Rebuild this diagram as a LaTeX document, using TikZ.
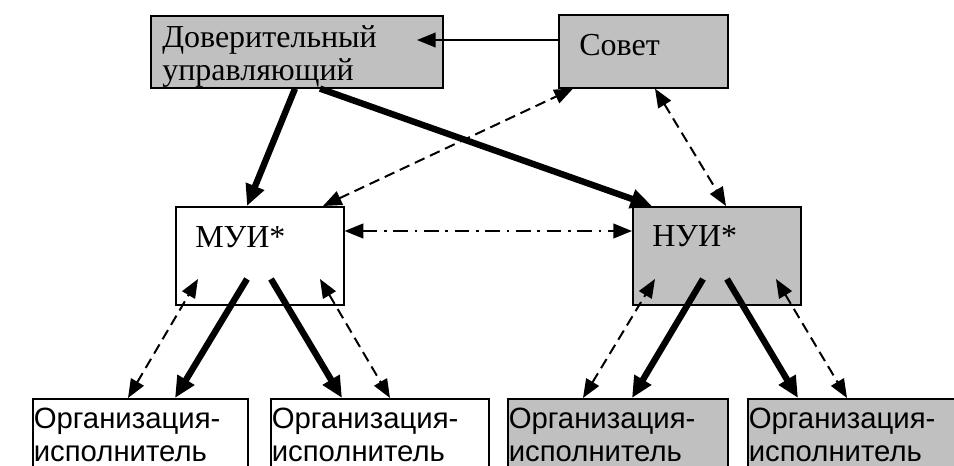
\documentclass[tikz,border=0pt]{standalone}
\usepackage{fontspec}
\setmainfont{Liberation Serif}
\newfontfamily\orgfont{Liberation Sans}
\usetikzlibrary{calc,arrows.meta}
\definecolor{boxgray}{HTML}{C0C0C0}
\tikzset{
  box/.style={draw=black, line width=1.2pt, anchor=north west, inner sep=0pt, rectangle},
  grey/.style={box, fill=boxgray},
  white/.style={box, fill=white},
  lbl/.style={anchor=base west, inner sep=0pt, font=\fontsize{24}{25}\selectfont},
  orglbl/.style={anchor=base west, inner sep=0pt, font=\orgfont\fontsize{22}{25}\selectfont},
  thinarr/.style={line width=1.4pt, -{Triangle[length=14pt,width=11pt]}},
  thickarr/.style={line width=4.8pt, -{Triangle[length=16pt,width=14pt]}},
  dsh/.style={line width=1.5pt, dash pattern=on 8pt off 4.5pt, {Triangle[length=14pt,width=11pt]}-{Triangle[length=14pt,width=11pt]}},
  dshdot/.style={line width=1.5pt, dash pattern=on 11pt off 5pt on 2pt off 5pt, {Triangle[length=14pt,width=11pt]}-{Triangle[length=14pt,width=11pt]}},
}
\begin{document}
\begin{tikzpicture}[x=0.75pt, y=-0.75pt]
\useasboundingbox (0,0) rectangle (954,465);
\clip (0,0) rectangle (954,465);
% boxes
\node[grey, minimum width=292*0.75pt, minimum height=72*0.75pt] (tr) at (150,15) {};
\node[grey, minimum width=169*0.75pt, minimum height=73*0.75pt] (co) at (558,14) {};
\node[white, minimum width=168*0.75pt, minimum height=98*0.75pt] (mu) at (175,206) {};
\node[grey, minimum width=168*0.75pt, minimum height=98*0.75pt] (nu) at (632,206) {};
\node[white, minimum width=215*0.75pt, minimum height=100*0.75pt] (b1) at (32,398) {};
\node[white, minimum width=218*0.75pt, minimum height=100*0.75pt] (b2) at (270,398) {};
\node[grey, minimum width=220*0.75pt, minimum height=100*0.75pt] (b3) at (507,398) {};
\node[grey, minimum width=220*0.75pt, minimum height=100*0.75pt] (b4) at (747,398) {};
% texts
\node[lbl] (trA) at ($(tr.north west)+(12,32)$) {Доверительный};
\node[lbl] (trB) at ($(tr.north west)+(12,65)$) {управляющий};
\node[lbl] (coT) at ($(co.north west)+(21,41)$) {Совет};
\node[lbl] (muT) at ($(mu.north west)+(20,41)$) {МУИ*};
\node[lbl] (nuT) at ($(nu.north west)+(20,40)$) {НУИ*};
\foreach \b in {b1,b2,b3,b4}{
  \node[orglbl] (\b A) at ($(\b.north west)+(1.5,30)$) {Организация-};
  \node[orglbl] (\b B) at ($(\b.north west)+(1.5,63)$) {исполнитель};
}
% connectors
\draw[thinarr] ($(co.north west)+(0,26)$) -- ($(tr.north west)+(267,25)$);
\draw[thickarr] ($(tr.south west)+(145,0)$) -- ($(mu.north west)+(72,0)$);
\draw[thickarr] ($(tr.south west)+(170,0)$) -- ($(nu.north west)+(20,0)$);
\draw[dsh] ($(mu.north west)+(148,0)$) -- ($(co.south west)+(15,0)$);
\draw[dsh] ($(co.south west)+(97,0)$) -- ($(nu.north west)+(94,0)$);
\draw[dshdot] ($(mu.north east)+(0,25)$) -- ($(nu.north west)+(0,25)$);
% MUI group
\draw[dsh] ($(b1.north west)+(96,0)$) -- ($(mu.north west)+(23,73)$);
\draw[thickarr] ($(mu.north west)+(72,73)$) -- ($(b1.north west)+(143,0)$);
\draw[thickarr] ($(mu.north west)+(96,73)$) -- ($(b2.north west)+(72,0)$);
\draw[dsh] ($(mu.north west)+(145,73)$) -- ($(b2.north west)+(120,0)$);
% NUI group
\draw[dsh] ($(b3.north west)+(76,0)$) -- ($(nu.north west)+(23,73)$);
\draw[thickarr] ($(nu.north west)+(71,73)$) -- ($(b3.north west)+(125,0)$);
\draw[thickarr] ($(nu.north west)+(95,73)$) -- ($(b4.north west)+(51,0)$);
\draw[dsh] ($(nu.north west)+(144,73)$) -- ($(b4.north west)+(100,0)$);
\end{tikzpicture}
\end{document}
